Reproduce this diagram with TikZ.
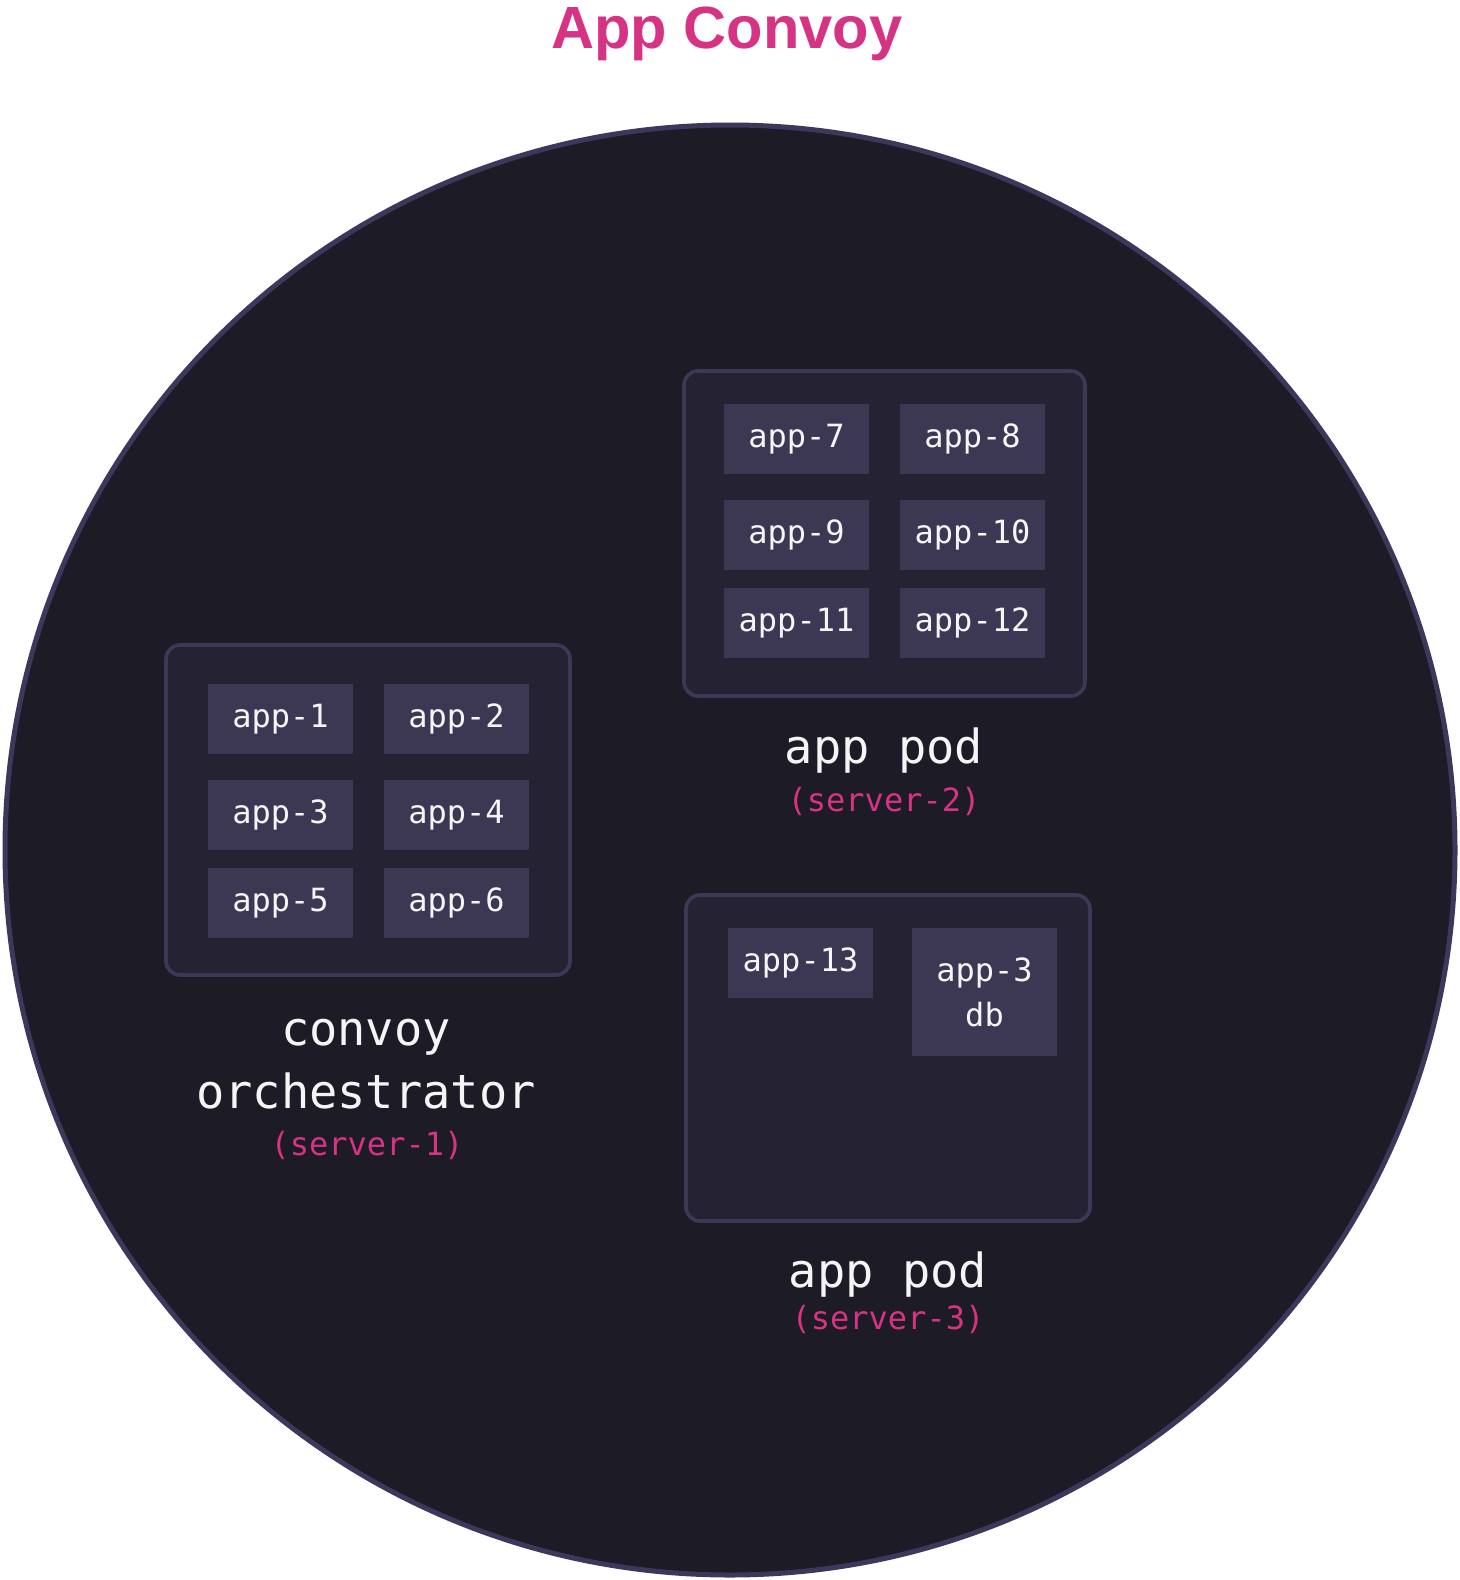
\documentclass[tikz,border=0pt]{standalone}
\usepackage{fontspec}
\setmainfont{Fira Sans}
\setmonofont{DejaVu Sans Mono}
\newfontfamily\titlefont{Liberation Sans}
\usetikzlibrary{shapes,calc}
\definecolor{convoyfill}{RGB}{28,27,38}
\definecolor{convoyline}{RGB}{62,55,92}
\definecolor{podfill}{RGB}{37,35,51}
\definecolor{podline}{RGB}{61,56,86}
\definecolor{appfill}{RGB}{60,55,83}
\definecolor{apptext}{RGB}{245,245,245}
\definecolor{convoypink}{RGB}{214,51,132}
\tikzstyle{pod}=[draw=podline, line width=1.8pt, fill=podfill, rounded corners=7pt, inner sep=0pt]
\tikzstyle{app}=[fill=appfill, text=apptext, inner sep=0pt, minimum width=72.5pt, minimum height=35pt, align=center, font=\ttfamily\fontsize{16}{22.5}\selectfont]
\tikzstyle{podlabel}=[text=apptext, anchor=base, inner sep=0pt, font=\ttfamily\fontsize{23.5}{30}\selectfont]
\tikzstyle{server}=[text=convoypink, anchor=base, inner sep=0pt, font=\ttfamily\fontsize{16}{20}\selectfont]

\begin{document}
\begin{tikzpicture}[x=0.5pt, y=-0.5pt]
  % canvas
  \fill[white] (0,0) rectangle (1460,1580);
  \useasboundingbox (0,0) rectangle (1460,1580);

  % title
  \node[text=convoypink, anchor=base, inner sep=0pt, font=\titlefont\bfseries\fontsize{29.8}{36}\selectfont] (title) at (727,48) {App Convoy};

  % the convoy
  \draw[draw=convoyline, fill=convoyfill, line width=2.5pt] (730,850) circle (725);

  % pods
  \node[pod, minimum width=202pt, minimum height=165pt] (pod1) at (368,810) {};
  \node[pod, minimum width=200.5pt, minimum height=162.5pt] (pod2) at (884.5,533.5) {};
  \node[pod, minimum width=202pt, minimum height=163pt] (pod3) at (888,1058) {};

  % apps
  \foreach \n/\x/\y in {1/280.5/719, 2/456.5/719, 3/280.5/815, 4/456.5/815, 5/280.5/903, 6/456.5/903,
                        7/796.5/439, 8/972.5/439, 9/796.5/535, 10/972.5/535, 11/796.5/623, 12/972.5/623,
                        13/800.5/963}
    \node[app] (app\n) at (\x,\y) {app-\n};
  \node[app, minimum height=64pt] (app3db) at (984.5,992) {app-3\\db};

  % labels
  \node[podlabel] (pod1name) at (366,1045) {convoy};
  \node[podlabel] (pod1role) at (366,1108) {orchestrator};
  \node[server] (pod1srv) at (367,1155) {(server-1)};

  \node[podlabel] (pod2name) at (884,763) {app pod};
  \node[server] (pod2srv) at (884,811) {(server-2)};

  \node[podlabel] (pod3name) at (888,1287) {app pod};
  \node[server] (pod3srv) at (888,1329) {(server-3)};
\end{tikzpicture}
\end{document}
